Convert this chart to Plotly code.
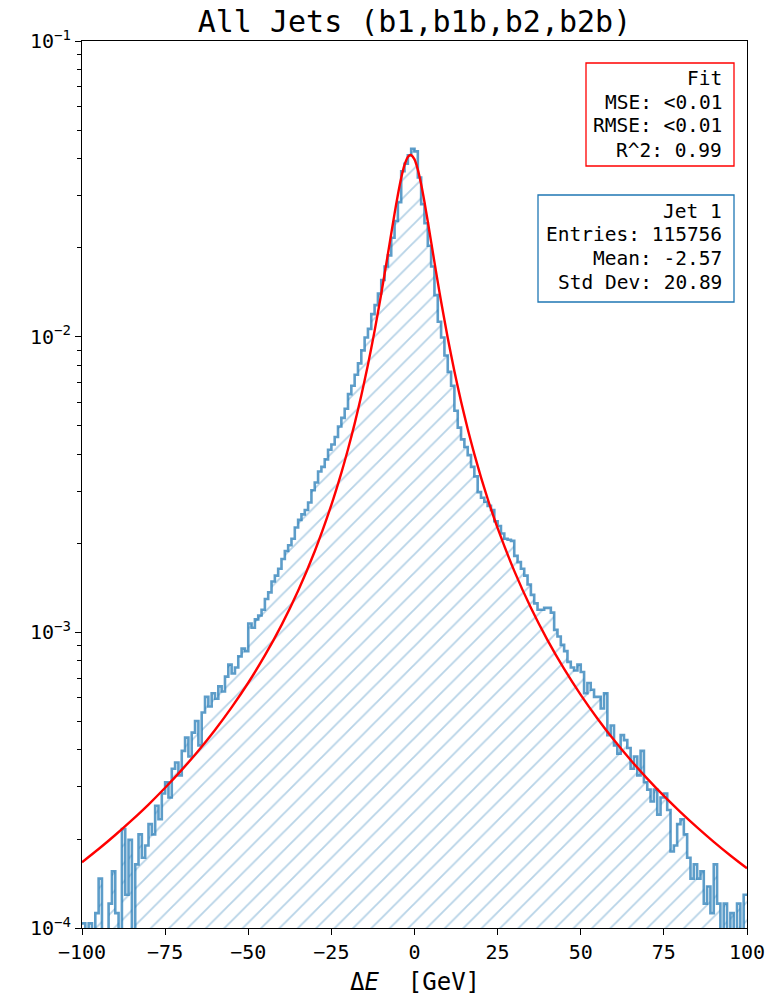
import numpy as np
import plotly.graph_objects as go

# ---------------- data ----------------
TITLE = "All Jets (b1,b1b,b2,b2b)"
ENTRIES = 115756
BIN_WIDTH = 1.0
BIN_EDGES = list(range(-100, 101))  # 200 bins of 1 GeV

# counts per bin, bins -100..-99 ... 99..100
COUNTS_LEFT = [
    12, 10, 12, 9, 13, 17, 11, 8, 14, 18,        # -100 .. -91
    13, 9, 25, 15, 23, 11, 19, 24, 20, 22,       # -90 .. -81
    26, 24, 30, 27, 33, 36, 32, 40, 42, 38,      # -80 .. -71
    46, 51, 44, 53, 58, 48, 62, 70, 65, 72,      # -70 .. -61
    69, 76, 73, 82, 90, 84, 88, 96, 102, 100,    # -60 .. -51
    124, 120, 128, 132, 138, 150, 158, 172, 180, 190,   # -50 .. -41
    205, 218, 228, 240, 262, 278, 290, 300, 318, 350,   # -40 .. -31
    372, 405, 420, 445, 480, 500, 530, 575, 615, 660,   # -30 .. -21
    740, 790, 860, 940, 1040, 1150, 1230, 1380, 1480, 1620,  # -20 .. -11
    1800, 2000, 2180, 2500, 2850, 3300, 4200, 4450, 4750, 5000,  # -10 .. -1
]
COUNTS_RIGHT = [
    4900, 4000, 3250, 2800, 2350, 2000, 1600, 1300, 1150, 1000,  # 0 .. 9
    880, 790, 650, 570, 520, 490, 460, 420, 390, 345,            # 10 .. 19
    330, 320, 310, 300, 275, 265, 250, 240, 238, 236,            # 20 .. 29
    210, 200, 190, 180, 168, 155, 145, 138, 138, 140,            # 30 .. 39
    140, 135, 118, 112, 105, 100, 92, 88, 86, 90,                # 40 .. 49
    85, 72, 78, 74, 70, 70, 64, 72, 52, 56,                      # 50 .. 59
    48, 45, 52, 50, 47, 40, 44, 38, 46, 36,                      # 60 .. 69
    34, 31, 34, 28, 32, 33, 29, 21, 22, 26,                      # 70 .. 79
    27, 24, 20, 17, 19, 17, 18, 14, 16, 13,                      # 80 .. 89
    19, 14, 10, 14, 9, 13, 10, 14, 9, 15,                        # 90 .. 99
]
COUNTS = COUNTS_LEFT + COUNTS_RIGHT

# fit curve
FIT_X = [-100, -95, -90, -85, -80, -75, -70, -65, -60, -55, -50, -45, -40, -35,
         -30, -25, -22, -20, -18, -16, -14, -12, -10, -8, -7, -6, -5, -4, -3,
         -2, -1.2, -1, 0, 1, 2, 3, 4, 5, 6, 7, 8, 10, 12, 14, 16, 18, 20, 22,
         25, 30, 35, 40, 45, 50, 55, 60, 65, 70, 75, 80, 85, 90, 95, 100]
FIT_Y = [1.669e-4, 1.85e-4, 2.063e-4, 2.316e-4, 2.616e-4, 2.981e-4, 3.425e-4,
         3.977e-4, 4.676e-4, 5.575e-4, 6.754e-4, 8.352e-4, 1.058e-3, 1.383e-3,
         1.881e-3, 2.698e-3, 3.462e-3, 4.160e-3, 5.079e-3, 6.320e-3, 8.034e-3,
         1.046e-2, 1.396e-2, 1.903e-2, 2.230e-2, 2.607e-2, 3.021e-2, 3.440e-2,
         3.809e-2, 4.055e-2, 4.120e-2, 4.116e-2, 3.976e-2, 3.672e-2, 3.275e-2,
         2.853e-2, 2.451e-2, 2.093e-2, 1.787e-2, 1.529e-2, 1.315e-2, 9.904e-3,
         7.644e-3, 6.040e-3, 4.873e-3, 4.005e-3, 3.344e-3, 2.830e-3, 2.251e-3,
         1.614e-3, 1.211e-3, 9.413e-4, 7.521e-4, 6.145e-4, 5.113e-4, 4.320e-4,
         3.698e-4, 3.201e-4, 2.797e-4, 2.466e-4, 2.189e-4, 1.956e-4, 1.759e-4,
         1.591e-4]

FIT_LINES = ["Fit", "MSE: <0.01", "RMSE: <0.01", "R^2: 0.99"]
JET_LINES = ["Jet 1", "Entries: 115756", "Mean: -2.57", "Std Dev: 20.89"]

X_TICKS = [-100, -75, -50, -25, 0, 25, 50, 75, 100]
Y_TICKS = [1e-4, 1e-3, 1e-2, 1e-1]
Y_TICK_TEXT = ["10<sup>−4</sup>", "10<sup>−3</sup>", "10<sup>−2</sup>", "10<sup>−1</sup>"]

# ---------------- figure ----------------
W, H = 769, 997
L, R, T, B = 82, 747, 41, 928  # plot area in pixels
MONO = "DejaVu Sans Mono"

edges = np.array(BIN_EDGES, dtype=float)
centers = (edges[:-1] + edges[1:]) / 2
density = np.array(COUNTS, dtype=float) / (ENTRIES * BIN_WIDTH)

fig = go.Figure()

# hatched fill
fig.add_trace(go.Bar(
    x=centers, y=density, width=BIN_WIDTH,
    marker=dict(color="rgba(0,0,0,0)", line=dict(width=0),
                pattern=dict(shape="/", size=13, solidity=0.14,
                             fgcolor="rgba(31,119,180,0.65)",
                             bgcolor="rgba(0,0,0,0)")),
    showlegend=False, hoverinfo="skip"))

# step outline
fig.add_trace(go.Scatter(
    x=edges, y=np.append(density, density[-1]), mode="lines",
    line=dict(shape="hv", color="rgba(31,119,180,0.72)", width=2.6),
    showlegend=False))

# fit
fig.add_trace(go.Scatter(
    x=FIT_X, y=FIT_Y, mode="lines",
    line=dict(color="red", width=2.4, shape="spline", smoothing=0.6),
    showlegend=False))


def px(xp):
    return (xp - L) / (R - L)


def py(yp):
    return (B - yp) / (B - T)


# stat boxes
def add_box(x0, y0, x1, y1, color, lines, text_right, centers_y):
    fig.add_shape(type="rect", xref="paper", yref="paper",
                  x0=px(x0), x1=px(x1), y0=py(y1), y1=py(y0),
                  line=dict(color=color, width=1.3), fillcolor="white", layer="above")
    for txt, cy in zip(lines, centers_y):
        fig.add_annotation(xref="paper", yref="paper", x=px(text_right), y=py(cy),
                           xanchor="right", yanchor="middle", text=txt, showarrow=False,
                           font=dict(family=MONO, size=19.5, color="black"))


add_box(586, 63, 734, 166, "red", FIT_LINES, 724, [78, 102, 126, 150])
add_box(538, 195, 734, 302, "#1f77b4", JET_LINES, 724, [211, 235, 258, 282])

# x axis title
fig.add_annotation(xref="paper", yref="paper", x=0.5, y=py(982), xanchor="center",
                   yanchor="middle", showarrow=False,
                   text="Δ<i>E</i>  [GeV]",
                   font=dict(family=MONO, size=24, color="black"))

minor_vals = [m * 10.0 ** e for e in (-4, -3, -2) for m in range(2, 10)]

fig.update_layout(
    width=W, height=H,
    margin=dict(l=L, r=W - R, t=T, b=H - B, pad=0),
    paper_bgcolor="white", plot_bgcolor="white",
    bargap=0,
    title=dict(text=TITLE, x=0.5, xref="paper", xanchor="center",
               y=1 - 21 / H, yref="container", yanchor="middle",
               font=dict(family=MONO, size=30, color="black")),
    font=dict(family=MONO, color="black"),
    xaxis=dict(range=[-100, 100], tickvals=X_TICKS, ticktext=[str(v).replace("-", "−") for v in X_TICKS],
               ticks="outside", ticklen=6, tickwidth=1.2, tickcolor="black",
               showline=True, linecolor="black", linewidth=1.3, mirror=True,
               showgrid=False, zeroline=False, automargin=False,
               tickfont=dict(family=MONO, size=20, color="black")),
    yaxis=dict(type="log", range=[-4, -1], tickvals=Y_TICKS, ticktext=Y_TICK_TEXT,
               ticks="outside", ticklen=6, tickwidth=1.2, tickcolor="black",
               showline=True, linecolor="black", linewidth=1.3, mirror=True,
               showgrid=False, zeroline=False, automargin=False,
               minor=dict(tickvals=minor_vals, ticks="outside", ticklen=3.5,
                          tickwidth=1, tickcolor="black", showgrid=False),
               tickfont=dict(family=MONO, size=20, color="black")),
)

fig.write_html("out.html",
               config={"displayModeBar": False},
               post_script="document.body.style.margin='0';document.body.style.padding='0';")
